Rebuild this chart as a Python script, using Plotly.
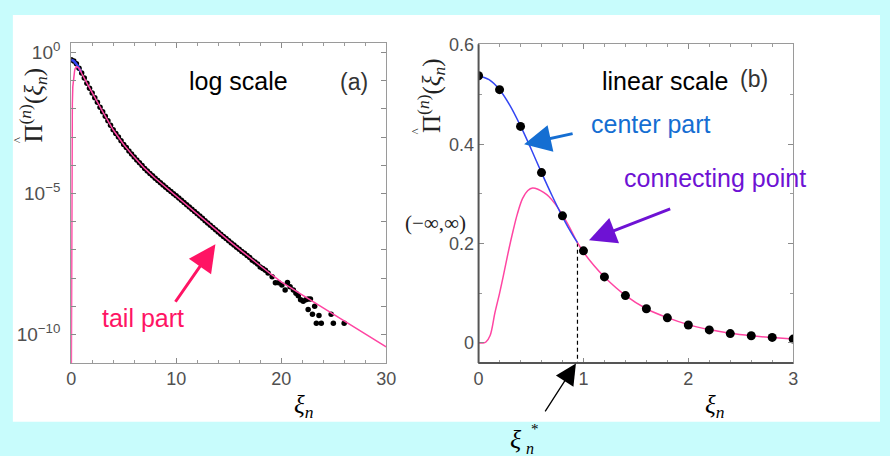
import plotly.graph_objects as go

W, H = 890, 456

# ---------------- data ----------------
# (a) log-scale panel: simulated points, x and log10 of the value
a_pts_x = [0, 0.25, 0.5, 0.75, 1, 1.25, 1.5, 1.75, 2, 2.25, 2.5, 2.75, 3, 3.25, 3.5, 3.75,
           4, 4.25, 4.5, 4.75, 5, 5.25, 5.5, 5.75, 6, 6.25, 6.5, 6.75, 7, 7.25, 7.5, 7.75,
           8, 8.25, 8.5, 8.75, 9, 9.25, 9.5, 9.75, 10, 10.25, 10.5, 10.75, 11, 11.25, 11.5, 11.75,
           12, 12.25, 12.5, 12.75, 13, 13.25, 13.5, 13.75, 14, 14.25, 14.5, 14.75, 15, 15.25, 15.5, 15.75,
           16, 16.25, 16.5, 16.75, 17, 17.25, 17.5, 17.75, 18, 18.25, 18.5, 18.75,
           19.14, 19.45, 19.76, 20.07, 20.38, 20.6, 20.85, 21.16, 21.41, 21.63, 21.85, 22.1,
           22.35, 22.57, 22.79, 22.57, 22.98, 23.19, 23.6, 23.35, 23.82, 24.76, 24.97, 26.0]
a_pts_log = [-0.26, -0.30, -0.40, -0.56, -0.73, -0.91, -1.09, -1.27, -1.44, -1.61, -1.77, -1.94, -2.10, -2.26, -2.42, -2.58,
             -2.74, -2.87, -3.00, -3.13, -3.26, -3.37, -3.49, -3.60, -3.71, -3.81, -3.91, -4.01, -4.11, -4.20, -4.29, -4.37,
             -4.46, -4.54, -4.62, -4.70, -4.78, -4.86, -4.93, -5.01, -5.08, -5.16, -5.24, -5.32, -5.40, -5.48, -5.56, -5.64,
             -5.72, -5.80, -5.88, -5.96, -6.04, -6.12, -6.20, -6.28, -6.36, -6.44, -6.52, -6.59, -6.67, -6.75, -6.82, -6.90,
             -6.97, -7.05, -7.12, -7.20, -7.27, -7.36, -7.43, -7.50, -7.60, -7.66, -7.72, -7.82,
             -7.95, -8.16, -8.16, -8.24, -8.42, -8.15, -8.30, -8.42, -8.53, -8.62, -8.76, -8.82,
             -8.76, -8.74, -8.74, -9.11, -9.28, -8.99, -9.32, -9.60, -9.60, -9.28, -9.60, -9.60]

# (a) fitted density (pink), x and log10 of the value
a_fit_x = [0, 0.02, 0.04, 0.06, 0.08, 0.11, 0.156, 0.2, 0.234, 0.28, 0.328, 0.37, 0.42, 0.515, 0.62, 0.73,
           0.8, 0.87, 0.943, 1, 1.5, 2, 2.5, 3, 4, 5, 6, 7, 8, 9, 10, 11, 12, 13, 14, 15, 16, 17,
           18, 19, 20, 21, 22, 23, 24, 25, 26, 27, 28, 29, 30]
a_fit_log = [-13, -9, -5, -3, -2.2, -1.82, -1.21, -1.0, -0.88, -0.74, -0.65, -0.585, -0.536, -0.506, -0.519, -0.553,
             -0.588, -0.635, -0.695, -0.738, -1.09, -1.44, -1.77, -2.10, -2.74, -3.26, -3.71, -4.11, -4.46, -4.78, -5.08,
             -5.40, -5.72, -6.04, -6.36, -6.67, -6.97, -7.27, -7.56, -7.85, -8.13, -8.36, -8.59, -8.82, -9.05, -9.28,
             -9.51, -9.74, -9.97, -10.20, -10.43]

# (b) linear panel: simulated points
b_pts_x = [0, 0.2, 0.4, 0.6, 0.8, 1.0, 1.2, 1.4, 1.6, 1.8, 2.0, 2.2, 2.4, 2.6, 2.8, 3.0]
b_pts_y = [0.538, 0.510, 0.436, 0.343, 0.256, 0.1855, 0.133, 0.0955, 0.069, 0.0507, 0.0362, 0.0264,
           0.019, 0.0145, 0.0112, 0.0079]

# (b) center part (blue)
center_x = [0, 0.1, 0.2, 0.3, 0.4, 0.5, 0.6, 0.7, 0.8, 0.9, 0.943]
center_y = [0.538, 0.530, 0.510, 0.478, 0.437, 0.391, 0.343, 0.297, 0.254, 0.216, 0.202]

# (b) tail part (pink)
tail_x = [0, 0.04, 0.07, 0.11, 0.156, 0.2, 0.234, 0.28, 0.328, 0.37, 0.42, 0.47, 0.515, 0.57, 0.62,
          0.67, 0.73, 0.8, 0.87, 0.943, 1.0, 1.1, 1.2, 1.4, 1.6, 1.8, 2.0, 2.2, 2.4, 2.6, 2.8, 3.0]
tail_y = [0, 0, 0.002, 0.015, 0.061, 0.10, 0.133, 0.18, 0.225, 0.26, 0.291, 0.307, 0.312, 0.309, 0.303,
          0.295, 0.28, 0.258, 0.232, 0.202, 0.183, 0.156, 0.133, 0.096, 0.069, 0.051, 0.037, 0.027,
          0.0195, 0.0145, 0.011, 0.008]

xi_star = 0.943
pi_star = 0.202

a_xticks = [0, 10, 20, 30]
a_ydecades = list(range(0, -12, -1))
a_ylabels = {0: "10<sup>0</sup>", -5: "10<sup>\u22125</sup>", -10: "10<sup>\u221210</sup>"}
b_xticks = [0, 1, 2, 3]
b_yticks = [0, 0.2, 0.4, 0.6]
b_ylabels = ["0", "0.2", "0.4", "0.6"]

# ---------------- style ----------------
PINK = "#FF45A2"
BLUE = "#3346F2"
TXT_PINK = "#FF1464"
TXT_BLUE = "#156ED2"
TXT_PURPLE = "#6E12D4"
BG = "#C8FCFC"
SANS = "Liberation Sans, Arial, sans-serif"
SERIF = "Liberation Serif, Times New Roman, serif"


def px(x, y):
    return x / W, 1 - y / H


fig = go.Figure()

# panel (a)
fig.add_trace(go.Scatter(x=a_pts_x, y=[10 ** v for v in a_pts_log], mode="markers",
                         marker=dict(color="black", size=5.5), xaxis="x", yaxis="y"))
fig.add_trace(go.Scatter(x=center_x, y=center_y, mode="lines",
                         line=dict(color=BLUE, width=2.5), xaxis="x", yaxis="y"))
fig.add_trace(go.Scatter(x=a_fit_x, y=[10 ** v for v in a_fit_log], mode="lines",
                         line=dict(color=PINK, width=1.5), xaxis="x", yaxis="y"))

# panel (b)
fig.add_trace(go.Scatter(x=[xi_star, xi_star], y=[pi_star, -0.04], mode="lines",
                         line=dict(color="black", width=1.2, dash="4px,3px"), xaxis="x2", yaxis="y2"))
fig.add_trace(go.Scatter(x=tail_x, y=tail_y, mode="lines",
                         line=dict(color=PINK, width=1.5, shape="spline"), xaxis="x2", yaxis="y2"))
fig.add_trace(go.Scatter(x=center_x, y=center_y, mode="lines",
                         line=dict(color=BLUE, width=1.5, shape="spline"), xaxis="x2", yaxis="y2"))
fig.add_trace(go.Scatter(x=b_pts_x, y=b_pts_y, mode="markers",
                         marker=dict(color="black", size=9), xaxis="x2", yaxis="y2"))

axis_common = dict(showgrid=False, zeroline=False, showline=True, mirror="ticks",
                   ticks="inside", ticklen=5, tickcolor="#8a8a8a", linecolor="#9a9a9a", linewidth=1,
                   tickfont=dict(family=SANS, size=18, color="#505050"))

fig.update_layout(
    width=W, height=H, margin=dict(l=0, r=0, t=0, b=0),
    paper_bgcolor=BG, plot_bgcolor="white", showlegend=False,
    xaxis=dict(axis_common, domain=[67.3 / W, 387.7 / W], range=[0, 30], tickvals=a_xticks,
               anchor="y", minor=dict(dtick=2, ticklen=3, ticks="inside", tickcolor="#9a9a9a")),
    yaxis=dict(axis_common, type="log", domain=[1 - 361 / H, 1 - 34.3 / H], range=[-11.0, 0.347],
               tickvals=[10 ** d for d in a_ydecades],
               ticktext=[a_ylabels.get(d, "") for d in a_ydecades],
               tickfont=dict(family=SANS, size=19, color="#505050"),
               ticklabelstandoff=6, anchor="x"),
    xaxis2=dict(axis_common, domain=[481.7 / W, 801.7 / W], range=[0, 3], tickvals=b_xticks,
                anchor="y2", minor=dict(dtick=0.2, ticklen=3, ticks="inside", tickcolor="#9a9a9a")),
    yaxis2=dict(axis_common, domain=[1 - 361 / H, 1 - 36 / H], range=[-0.04, 0.6013],
                tickvals=b_yticks, ticktext=b_ylabels, anchor="x2",
                minor=dict(dtick=0.1, ticklen=3, ticks="inside", tickcolor="#9a9a9a")),
)

shapes = [
    dict(type="rect", xref="paper", yref="paper", x0=8 / W, x1=1, y0=1 - 421 / H, y1=1 - 6 / H,
         fillcolor="white", line=dict(width=0), layer="below"),
    dict(type="line", xref="x2 domain", yref="y2 domain", x0=0, x1=0, y0=0, y1=1,
         line=dict(color="#555555", width=2), layer="above"),
    dict(type="line", xref="x2 domain", yref="y2 domain", x0=0, x1=1, y0=0, y1=0,
         line=dict(color="#555555", width=2), layer="above"),
]
fig.update_layout(shapes=shapes)

ann = []


def text(x, y, s, size, color="black", family=SANS, angle=0):
    X, Y = px(x, y)
    ann.append(dict(x=X, y=Y, xref="paper", yref="paper", text=s, showarrow=False,
                    font=dict(family=family, size=size, color=color), textangle=angle,
                    xanchor="center", yanchor="middle"))


def arrow(x0, y0, x1, y1, color, width, size):
    X, Y = px(x1, y1)
    ann.append(dict(x=X, y=Y, xref="paper", yref="paper", text="", showarrow=True,
                    ax=x0 - x1, ay=y0 - y1, axref="pixel", ayref="pixel",
                    arrowhead=2, arrowsize=size, arrowwidth=width, arrowcolor=color))


text(237, 73, "log scale", 25)
text(354.5, 74, "(a)", 23, "#333333")
text(671, 73, "linear scale", 25)
text(761.7, 71.5, "(b)", 23, "#333333")
text(657, 117, "center part", 25, TXT_BLUE)
text(722, 172, "connecting point", 25, TXT_PURPLE)
text(140.7, 315, "tail part", 25, TXT_PINK)

arrow(578, 127, 528, 138, TXT_BLUE, 3, 1.8)
arrow(676.7, 204, 594, 236, TXT_PURPLE, 3, 1.8)
arrow(173, 299, 214, 240, TXT_PINK, 3, 1.8)
arrow(549, 411, 580.7, 361.7, "black", 1.3, 3.2)

# axis titles
text(304, 406, "<i>\u03be</i><sub><i>n</i></sub>", 25, family=SERIF)
text(722, 406, "<i>\u03be</i><sub><i>n</i></sub>", 25, family=SERIF)
ytitle = "\u03a0<sup>(<i>n</i>)</sup>(<i>\u03be</i><sub><i>n</i></sub>)"
text(29, 98, ytitle, 25, "#222222", SERIF, -90)
text(434, 88, ytitle, 25, "#222222", SERIF, -90)
text(13, 134, "^", 13, "#222222", SERIF, -90)
text(418, 125, "^", 13, "#222222", SERIF, -90)
text(438, 218, "(\u2212\u221e,\u221e)", 21, "#222222", SERIF)

# xi_n^*
text(520, 439, "<i>\u03be</i>", 26, family=SERIF)
text(534, 448, "<i>n</i>", 16, family=SERIF)
text(539, 428, "*", 15, family=SERIF)

fig.update_layout(annotations=ann)
fig.write_html("out.html", config={"displayModeBar": False},
               post_script="document.body.style.margin='0';document.body.style.padding='0';")
